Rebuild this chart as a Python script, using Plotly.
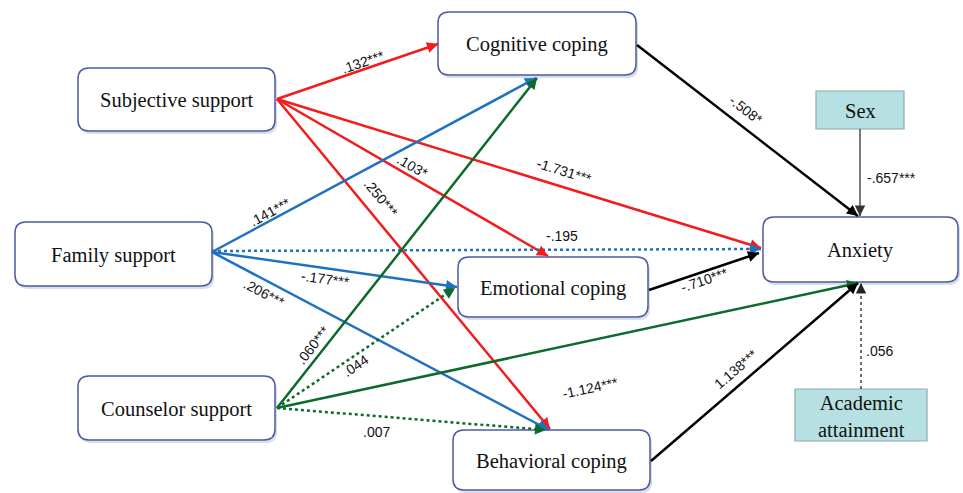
import math
import plotly.graph_objects as go

# ---------------- data ----------------
node_names = ["Subjective support", "Family support", "Counselor support",
              "Cognitive coping", "Emotional coping", "Behavioral coping",
              "Anxiety", "Sex", "Academic attainment"]
node_kind = ["predictor", "predictor", "predictor",
             "mediator", "mediator", "mediator",
             "outcome", "covariate", "covariate"]

edge_source = ["Subjective support", "Subjective support", "Subjective support", "Subjective support",
               "Family support", "Family support", "Family support", "Family support",
               "Counselor support", "Counselor support", "Counselor support", "Counselor support",
               "Cognitive coping", "Emotional coping", "Behavioral coping",
               "Sex", "Academic attainment"]
edge_target = ["Cognitive coping", "Emotional coping", "Behavioral coping", "Anxiety",
               "Cognitive coping", "Anxiety", "Emotional coping", "Behavioral coping",
               "Cognitive coping", "Emotional coping", "Anxiety", "Behavioral coping",
               "Anxiety", "Anxiety", "Anxiety",
               "Anxiety", "Anxiety"]
edge_coef = [".132***", ".103*", ".250***", "-1.731***",
             ".141***", "-.195", "-.177***", ".206***",
             ".060***", ".044", "-1.124***", ".007",
             "-.508*", "-.710***", "1.138***",
             "-.657***", ".056"]
edge_significant = [True, True, True, True,
                    True, False, True, True,
                    True, False, True, False,
                    True, True, True,
                    True, False]

# ---------------- layout / styles ----------------
W, H = 963, 493
node_box = {
    "Subjective support": (78, 68, 275, 131),
    "Family support": (15, 222, 212, 286),
    "Counselor support": (78, 376, 275, 440),
    "Cognitive coping": (438, 12, 636, 75),
    "Emotional coping": (458, 257, 648, 317),
    "Behavioral coping": (453, 430, 650, 490),
    "Anxiety": (763, 217, 958, 282),
    "Sex": (816, 91, 904, 129),
    "Academic attainment": (795, 389, 927, 441),
}
edge_start = [(277, 99), (277, 99), (277, 99), (277, 99),
              (212, 252), (212, 251), (212, 252), (212, 252),
              (277, 408), (277, 408), (277, 408), (277, 408),
              (637, 45), (649, 290), (651, 461),
              (860, 129), (861, 389)]
edge_end = [(438, 44), (548, 256), (550, 429), (761, 248),
            (536, 78), (761, 249), (457, 287), (549, 430),
            (537, 78), (455, 288), (858, 283), (546, 430),
            (858, 216), (759, 253), (858, 283),
            (860, 216), (861, 283)]
label_pos = [(363, 62), (412, 166), (381, 198), (564, 171),
             (270, 212), (562, 236), (325, 279), (264, 293),
             (313, 345), (355, 366), (590, 388), (376, 432),
             (746, 110), (704, 280), (736, 369),
             (891, 178), (879, 351)]
label_flat = [False, False, False, False,
              False, True, False, False,
              False, False, False, True,
              False, False, False,
              True, True]

source_color = {
    "Subjective support": "#f21c1c",
    "Family support": "#1f72c0",
    "Counselor support": "#0c6b2b",
    "Cognitive coping": "#000000",
    "Emotional coping": "#000000",
    "Behavioral coping": "#000000",
    "Sex": "#333333",
    "Academic attainment": "#222222",
}


def rounded(x0, y0, x1, y1, r):
    return (f"M{x0+r},{y0} L{x1-r},{y0} Q{x1},{y0} {x1},{y0+r} "
            f"L{x1},{y1-r} Q{x1},{y1} {x1-r},{y1} L{x0+r},{y1} "
            f"Q{x0},{y1} {x0},{y1-r} L{x0},{y0+r} Q{x0},{y0} {x0+r},{y0} Z")


fig = go.Figure()
shapes = []
annotations = []

# boxes
for name, kind in zip(node_names, node_kind):
    x0, y0, x1, y1 = node_box[name]
    if kind == "covariate":
        shapes.append(dict(type="rect", xref="x", yref="y", x0=x0, y0=y0, x1=x1, y1=y1,
                           fillcolor="#b6e0e1", line=dict(color="#8fa9ab", width=1.2),
                           layer="below"))
    else:
        shapes.append(dict(type="path", xref="x", yref="y",
                           path=rounded(x0 + 2, y0 + 3, x1 + 2, y1 + 3, 11),
                           fillcolor="rgba(140,160,190,0.35)", line=dict(width=0),
                           layer="below"))
        shapes.append(dict(type="path", xref="x", yref="y",
                           path=rounded(x0, y0, x1, y1, 11),
                           fillcolor="white", line=dict(color="#4d5aa5", width=1.5),
                           layer="below"))
    text = name
    if name == "Academic attainment":
        text = "Academic<br>attainment"
    annotations.append(dict(x=(x0 + x1) / 2, y=(y0 + y1) / 2 + 1, xref="x", yref="y",
                            text=text, showarrow=False,
                            font=dict(family="Liberation Serif, Times New Roman, serif",
                                      size=20.5, color="#111111")))

# edges
for i in range(len(edge_source)):
    src = edge_source[i]
    color = source_color[src]
    (sx, sy), (ex, ey) = edge_start[i], edge_end[i]
    thin = src in ("Sex", "Academic attainment")
    width = 1.3 if thin else 2.5
    dash = "solid" if edge_significant[i] else "dot"
    fig.add_trace(go.Scatter(x=[sx, ex], y=[sy, ey], mode="lines",
                             line=dict(color=color, width=width, dash=dash),
                             hoverinfo="skip", showlegend=False))
    dx, dy = ex - sx, ey - sy
    L = math.hypot(dx, dy)
    ux, uy = dx / L, dy / L
    alen = 9
    annotations.append(dict(x=ex, y=ey, xref="x", yref="y", ax=-ux * alen, ay=-uy * alen,
                            text="", showarrow=True, arrowhead=2,
                            arrowsize=1.0 if not thin else 1.6,
                            arrowwidth=2.2 if not thin else 1.3, arrowcolor=color,
                            standoff=0, startstandoff=0))
    ang = 0 if label_flat[i] else math.degrees(math.atan2(dy, dx))
    lx, ly = label_pos[i]
    annotations.append(dict(x=lx, y=ly, xref="x", yref="y", text=edge_coef[i],
                            showarrow=False, textangle=ang,
                            font=dict(family="Liberation Sans, Arial, sans-serif",
                                      size=14, color="#111111")))

fig.update_layout(
    width=W, height=H,
    margin=dict(l=0, r=0, t=0, b=0),
    paper_bgcolor="white", plot_bgcolor="white",
    xaxis=dict(range=[0, W], visible=False, fixedrange=True),
    yaxis=dict(range=[H, 0], visible=False, fixedrange=True),
    shapes=shapes, annotations=annotations, showlegend=False,
)

fig.write_html("out.html", config={"displayModeBar": False},
               post_script="document.body.style.margin='0px';document.body.style.overflow='hidden';")
